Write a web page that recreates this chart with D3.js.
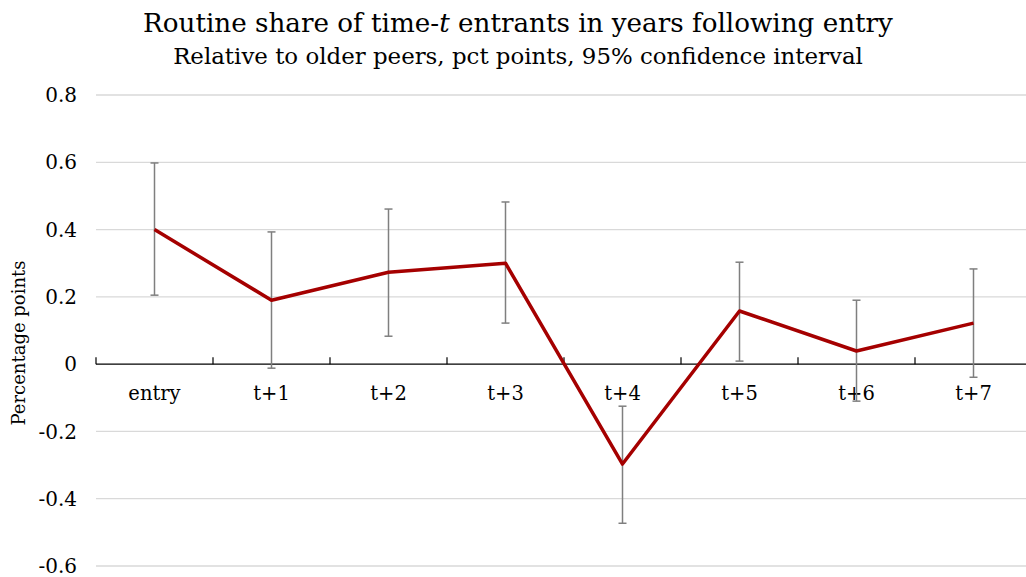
<!DOCTYPE html>
<html>
<head>
<meta charset="utf-8">
<script src="https://cdn.jsdelivr.net/npm/d3@7"></script>
<style>
  body { margin: 0; background: #fff; }
  svg text { font-family: "DejaVu Serif", serif; fill: #000; }
</style>
</head>
<body>
<svg width="1026" height="577"></svg>
<script>
var categories = ["entry", "t+1", "t+2", "t+3", "t+4", "t+5", "t+6", "t+7"];
var values = [0.40, 0.19, 0.273, 0.30, -0.297, 0.158, 0.039, 0.122];
var upper  = [0.598, 0.393, 0.461, 0.482, -0.125, 0.303, 0.19, 0.283];
var lower  = [0.205, -0.012, 0.083, 0.122, -0.473, 0.009, -0.11, -0.039];
var yTicks = [-0.6, -0.4, -0.2, 0, 0.2, 0.4, 0.6, 0.8];

var svg = d3.select("svg"),
    width = +svg.attr("width"),
    height = +svg.attr("height");

var data = categories.map(function(c, i) {
    return {cat: c, v: values[i], hi: upper[i], lo: lower[i]};
});

var x = d3.scaleBand()
    .domain(categories)
    .range([96, 1032]);

var y = d3.scaleLinear()
    .domain([-0.6, 0.8])
    .range([566, 95]);

// gridlines
svg.append("g")
    .selectAll("line")
    .data(yTicks.filter(function(d) { return d !== 0; }))
    .enter().append("line")
    .attr("x1", 96)
    .attr("x2", width)
    .attr("y1", function(d) { return y(d); })
    .attr("y2", function(d) { return y(d); })
    .attr("stroke", "#d9d9d9")
    .attr("stroke-width", 1.3);

// y labels (plain hyphen for negatives, like the original)
svg.append("g")
    .selectAll("text")
    .data(yTicks)
    .enter().append("text")
    .attr("x", 77)
    .attr("y", function(d) { return y(d); })
    .attr("dy", "0.36em")
    .attr("text-anchor", "end")
    .style("font-size", "20px")
    .text(function(d) { return d === 0 ? "0" : d3.format(".1f")(d).replace("\u2212", "-"); });

// x axis at zero, ticks pointing up
var xAxis = svg.append("g")
    .attr("transform", "translate(0," + y(0) + ")");
xAxis.append("line")
    .attr("x1", 96).attr("x2", width)
    .attr("stroke", "#000").attr("stroke-width", 1.3);
xAxis.selectAll(".tk")
    .data(categories)
    .enter().append("line")
    .attr("class", "tk")
    .attr("x1", function(d) { return x(d); })
    .attr("x2", function(d) { return x(d); })
    .attr("y1", 0).attr("y2", -7)
    .attr("stroke", "#000").attr("stroke-width", 1.2);
xAxis.selectAll("text")
    .data(categories)
    .enter().append("text")
    .attr("x", function(d) { return x(d) + x.bandwidth() / 2; })
    .attr("y", 36)
    .attr("text-anchor", "middle")
    .style("font-size", "19.5px")
    .text(function(d) { return d; });

// error bars
var eb = svg.append("g")
    .attr("stroke", "#7f7f7f")
    .attr("stroke-width", 1.5)
    .selectAll("g")
    .data(data)
    .enter().append("g");
eb.append("line")
    .attr("x1", function(d) { return x(d.cat) + x.bandwidth() / 2; })
    .attr("x2", function(d) { return x(d.cat) + x.bandwidth() / 2; })
    .attr("y1", function(d) { return y(d.hi); })
    .attr("y2", function(d) { return y(d.lo); });
eb.selectAll(".cap")
    .data(function(d) { return [d.hi, d.lo].map(function(v) { return {cat: d.cat, v: v}; }); })
    .enter().append("line")
    .attr("class", "cap")
    .attr("x1", function(d) { return x(d.cat) + x.bandwidth() / 2 - 4; })
    .attr("x2", function(d) { return x(d.cat) + x.bandwidth() / 2 + 4; })
    .attr("y1", function(d) { return y(d.v); })
    .attr("y2", function(d) { return y(d.v); });

// line
var line = d3.line()
    .x(function(d) { return x(d.cat) + x.bandwidth() / 2; })
    .y(function(d) { return y(d.v); });

svg.append("path")
    .datum(data)
    .attr("d", line)
    .attr("fill", "none")
    .attr("stroke", "#a50000")
    .attr("stroke-width", 3.5)
    .attr("stroke-linejoin", "round");

// titles
var title = svg.append("text")
    .attr("x", 518)
    .attr("y", 32)
    .attr("text-anchor", "middle")
    .style("font-size", "26.2px");
title.append("tspan").text("Routine share of time-");
title.append("tspan").style("font-style", "italic").text("t");
title.append("tspan").text(" entrants in years following entry");

svg.append("text")
    .attr("x", 518)
    .attr("y", 64)
    .attr("text-anchor", "middle")
    .style("font-size", "22.9px")
    .text("Relative to older peers, pct points, 95% confidence interval");

svg.append("text")
    .attr("transform", "translate(25,343) rotate(-90)")
    .attr("text-anchor", "middle")
    .style("font-size", "18px")
    .text("Percentage points");
</script>
</body>
</html>
